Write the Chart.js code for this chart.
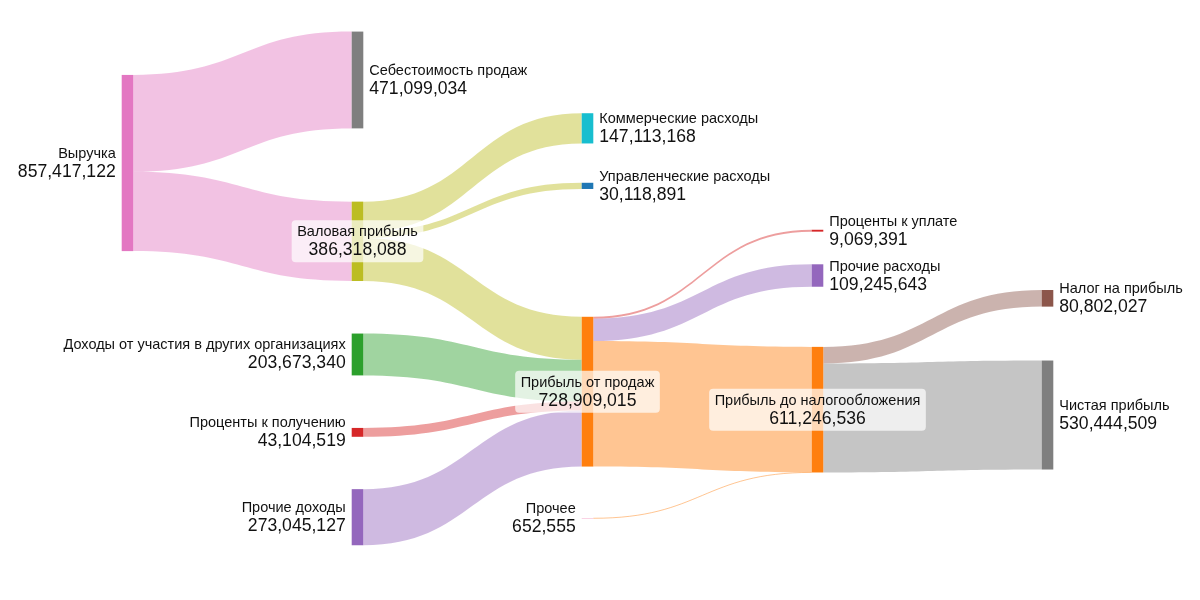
<!DOCTYPE html>
<html>
<head>
<meta charset="utf-8">
<script src="https://cdn.jsdelivr.net/npm/chart.js@4/dist/chart.umd.min.js"></script>
<style>
html,body{margin:0;padding:0;background:#ffffff;}
#wrap{width:1200px;height:600px;}
</style>
</head>
<body>
<div id="wrap"><canvas id="c" width="1200" height="600"></canvas></div>
<script>
// ---------- DATA ----------
const nodeLabels = [
  'Выручка',
  'Себестоимость продаж',
  'Валовая прибыль',
  'Доходы от участия в других организациях',
  'Проценты к получению',
  'Прочие доходы',
  'Коммерческие расходы',
  'Управленческие расходы',
  'Прибыль от продаж',
  'Прочее',
  'Проценты к уплате',
  'Прочие расходы',
  'Прибыль до налогообложения',
  'Налог на прибыль',
  'Чистая прибыль'
];
const linkSource = [0, 0, 2, 2, 2, 3, 4, 5, 8, 8, 8, 9, 12, 12];
const linkTarget = [1, 2, 6, 7, 8, 8, 8, 8, 10, 11, 12, 12, 13, 14];
const linkValue = [
  471099034, 386318088,
  147113168, 30118891, 209086029,
  203673340, 43104519, 273045127,
  9069391, 109245643, 610593981,
  652555,
  80802027, 530444509
];

// ---------- LAYOUT (like plotly node.x / node.y) ----------
const nodeColumn = [0, 1, 1, 1, 1, 1, 2, 2, 2, 2, 3, 3, 3, 4, 4];
const nodeYCenter = [0.2717, 0.1333, 0.4022, 0.5908, 0.7206, 0.8620, 0.2139, 0.3098, 0.6528, 0.8638, 0.3845, 0.4592, 0.6828, 0.4972, 0.6917];

// ---------- STYLE ----------
const nodeColors = ['#e377c2', '#7f7f7f', '#bcbd22', '#2ca02c', '#d62728', '#9467bd', '#17becf', '#1f77b4', '#ff7f0e', '#f7b6d2', '#d62728', '#9467bd', '#ff7f0e', '#8c564b', '#7f7f7f'];
const linkColors = [
  'rgba(227,119,194,0.45)', 'rgba(227,119,194,0.45)',
  'rgba(188,189,34,0.45)', 'rgba(188,189,34,0.45)', 'rgba(188,189,34,0.45)',
  'rgba(44,160,44,0.45)', 'rgba(214,39,40,0.45)', 'rgba(148,103,189,0.45)',
  'rgba(214,39,40,0.45)', 'rgba(148,103,189,0.45)', 'rgba(255,127,14,0.45)',
  'rgba(255,127,14,0.45)',
  'rgba(140,86,75,0.45)', 'rgba(127,127,127,0.45)'
];
const NODE_W = 11.6;
const Y_MAX = 2.92e9;
const FONT = '"Liberation Sans", Arial, Helvetica, sans-serif';

const fmt = v => v.toLocaleString('en-US');

const sankeyPlugin = {
  id: 'sankeyLite',
  afterDatasetsDraw(chart) {
    const ctx = chart.ctx;
    const xs = chart.scales.x, ys = chart.scales.y;
    const n = nodeLabels.length;
    const inSum = new Array(n).fill(0), outSum = new Array(n).fill(0);
    linkValue.forEach((v, k) => { outSum[linkSource[k]] += v; inSum[linkTarget[k]] += v; });
    const span = v => Math.abs(ys.getPixelForValue(v) - ys.getPixelForValue(0));
    const nodes = nodeLabels.map((lab, i) => {
      const value = Math.max(inSum[i], outSum[i]);
      const x0 = xs.getPixelForValue(nodeColumn[i]);
      const cy = ys.getPixelForValue(ys.min + nodeYCenter[i] * (ys.max - ys.min));
      const h = span(value);
      return { i, lab, value, x0, x1: x0 + NODE_W, cy, y0: cy - h / 2, h };
    });
    // link offsets
    const links = linkValue.map((v, k) => ({ k, s: linkSource[k], t: linkTarget[k], v, w: span(v) }));
    nodes.forEach(nd => {
      const outs = links.filter(l => l.s === nd.i).sort((a, b) => nodes[a.t].cy - nodes[b.t].cy);
      let y = nd.y0;
      outs.forEach(l => { l.sy = y; y += l.w; });
      const ins = links.filter(l => l.t === nd.i).sort((a, b) => nodes[a.s].cy - nodes[b.s].cy);
      y = nd.y0;
      ins.forEach(l => { l.ty = y; y += l.w; });
    });
    ctx.save();
    // links
    links.forEach(l => {
      const sx = nodes[l.s].x1, tx = nodes[l.t].x0, xm = (sx + tx) / 2;
      ctx.fillStyle = linkColors[l.k];
      ctx.strokeStyle = linkColors[l.k];
      if (l.w < 1) {
        ctx.beginPath();
        ctx.lineWidth = 1;
        const a = l.sy + l.w / 2, b = l.ty + l.w / 2;
        ctx.moveTo(sx, a);
        ctx.bezierCurveTo(xm, a, xm, b, tx, b);
        ctx.stroke();
      } else {
        ctx.beginPath();
        ctx.moveTo(sx, l.sy);
        ctx.bezierCurveTo(xm, l.sy, xm, l.ty, tx, l.ty);
        ctx.lineTo(tx, l.ty + l.w);
        ctx.bezierCurveTo(xm, l.ty + l.w, xm, l.sy + l.w, sx, l.sy + l.w);
        ctx.closePath();
        ctx.fill();
      }
    });
    // nodes
    nodes.forEach(nd => {
      ctx.fillStyle = nodeColors[nd.i];
      ctx.fillRect(nd.x0, nd.y0, NODE_W, Math.max(nd.h, 0.6));
    });
    // labels
    const nameFont = '14.5px ' + FONT, valFont = '17.6px ' + FONT;
    nodes.forEach(nd => {
      const hasIn = inSum[nd.i] > 0, hasOut = outSum[nd.i] > 0;
      const valTxt = fmt(nd.value);
      let x, align;
      if (hasIn && hasOut) {
        x = (nd.x0 + nd.x1) / 2; align = 'center';
        ctx.font = nameFont; const w1 = ctx.measureText(nd.lab).width;
        ctx.font = valFont; const w2 = ctx.measureText(valTxt).width;
        const w = Math.max(w1, w2) + 11;
        ctx.fillStyle = 'rgba(255,255,255,0.7)';
        ctx.beginPath();
        if (ctx.roundRect) ctx.roundRect(x - w / 2, nd.cy - 21, w, 42, 4);
        else ctx.rect(x - w / 2, nd.cy - 21, w, 42);
        ctx.fill();
      } else if (hasOut) {
        x = nd.x0 - 6; align = 'right';
      } else {
        x = nd.x1 + 6; align = 'left';
      }
      ctx.fillStyle = '#111';
      ctx.textAlign = align;
      ctx.textBaseline = 'alphabetic';
      ctx.font = nameFont;
      ctx.fillText(nd.lab, x, nd.cy - 5);
      ctx.font = valFont;
      ctx.fillText(valTxt, x, nd.cy + 14);
    });
    ctx.restore();
  }
};

new Chart(document.getElementById('c').getContext('2d'), {
  type: 'scatter',
  data: { datasets: [{ data: [] }] },
  options: {
    responsive: false,
    animation: false,
    devicePixelRatio: 1,
    layout: { padding: { left: 121.7, right: 158.3, top: 0, bottom: 0 } },
    scales: {
      x: { type: 'linear', min: 0, max: 4, display: false },
      y: { type: 'linear', min: 0, max: Y_MAX, reverse: true, display: false }
    },
    plugins: { legend: { display: false }, tooltip: { enabled: false } }
  },
  plugins: [sankeyPlugin]
});
</script>
</body>
</html>
